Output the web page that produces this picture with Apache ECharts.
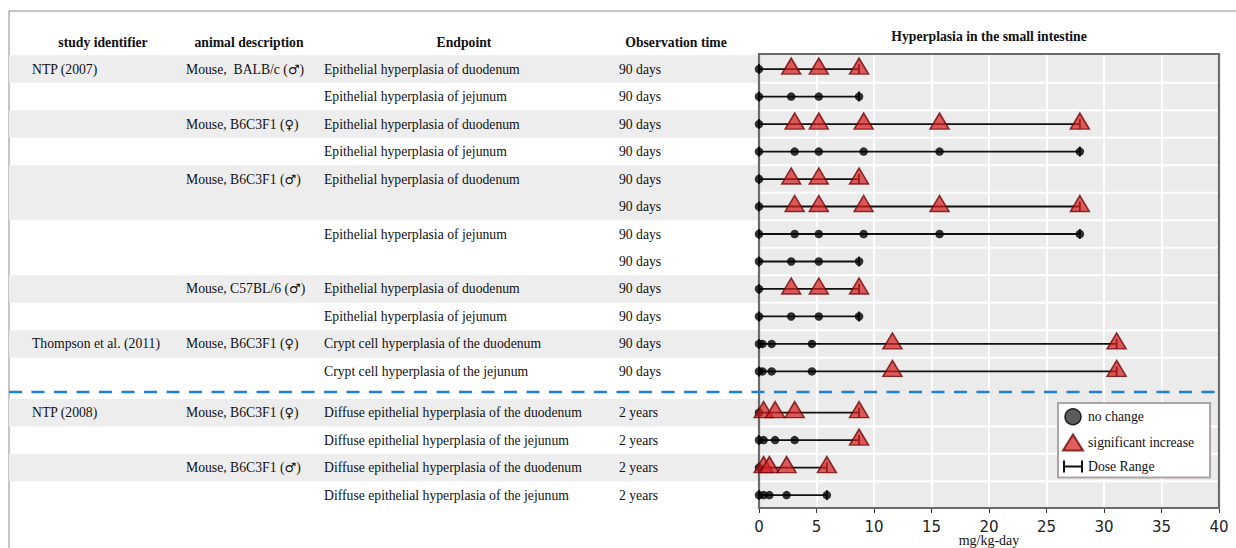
<!DOCTYPE html>
<html>
<head>
<meta charset="utf-8">
<script src="https://cdn.jsdelivr.net/npm/echarts@6/dist/echarts.min.js"></script>
<style>
  html, body { margin: 0; padding: 0; background: #ffffff; }
  #chart { width: 1236px; height: 548px; }
</style>
</head>
<body>
<div id="chart"></div>
<script>
// ---- table columns (one entry per row) ----
const studies = ['NTP (2007)', '', '', '', '', '', '', '', '', '', 'Thompson et al. (2011)', '', 'NTP (2008)', '', '', ''];
const animals = ['Mouse,  BALB/c (\u2642)', '', 'Mouse, B6C3F1 (\u2640)', '', 'Mouse, B6C3F1 (\u2642)', '', '', '',
  'Mouse, C57BL/6 (\u2642)', '', 'Mouse, B6C3F1 (\u2640)', '', 'Mouse, B6C3F1 (\u2640)', '', 'Mouse, B6C3F1 (\u2642)', ''];
const endpoints = [
  'Epithelial hyperplasia of duodenum', 'Epithelial hyperplasia of jejunum',
  'Epithelial hyperplasia of duodenum', 'Epithelial hyperplasia of jejunum',
  'Epithelial hyperplasia of duodenum', '',
  'Epithelial hyperplasia of jejunum', '',
  'Epithelial hyperplasia of duodenum', 'Epithelial hyperplasia of jejunum',
  'Crypt cell hyperplasia of the duodenum', 'Crypt cell hyperplasia of the jejunum',
  'Diffuse epithelial hyperplasia of the duodenum', 'Diffuse epithelial hyperplasia of the jejunum',
  'Diffuse epithelial hyperplasia of the duodenum', 'Diffuse epithelial hyperplasia of the jejunum'
];
const obsTimes = ['90 days', '90 days', '90 days', '90 days', '90 days', '90 days', '90 days', '90 days',
  '90 days', '90 days', '90 days', '90 days', '2 years', '2 years', '2 years', '2 years'];
const shaded = [1, 0, 1, 0, 1, 1, 0, 0, 1, 0, 1, 0, 1, 0, 1, 0];
const headers = ['study identifier', 'animal description', 'Endpoint', 'Observation time'];
const xAxisTitle = 'mg/kg-day';

// row positions on the vertical axis (the two study blocks are separated by a divider)
const rowPos = [1, 2, 3, 4, 5, 6, 7, 8, 9, 10, 11, 12, 13.5, 14.5, 15.5, 16.5];
const dividerPos = 12.75;

// ---- doses (mg/kg-day) and response per dose: 0 = no change, 1 = significant increase ----
const doses = [
  [0, 2.8, 5.2, 8.7],
  [0, 2.8, 5.2, 8.7],
  [0, 3.1, 5.2, 9.1, 15.7, 27.9],
  [0, 3.1, 5.2, 9.1, 15.7, 27.9],
  [0, 2.8, 5.2, 8.7],
  [0, 3.1, 5.2, 9.1, 15.7, 27.9],
  [0, 3.1, 5.2, 9.1, 15.7, 27.9],
  [0, 2.8, 5.2, 8.7],
  [0, 2.8, 5.2, 8.7],
  [0, 2.8, 5.2, 8.7],
  [0, 0.3, 1.1, 4.6, 11.6, 31.1],
  [0, 0.3, 1.1, 4.6, 11.6, 31.1],
  [0, 0.4, 1.4, 3.1, 8.7],
  [0, 0.4, 1.4, 3.1, 8.7],
  [0, 0.4, 0.9, 2.4, 5.9],
  [0, 0.4, 0.9, 2.4, 5.9]
];
const effects = [
  [0, 1, 1, 1],
  [0, 0, 0, 0],
  [0, 1, 1, 1, 1, 1],
  [0, 0, 0, 0, 0, 0],
  [0, 1, 1, 1],
  [0, 1, 1, 1, 1, 1],
  [0, 0, 0, 0, 0, 0],
  [0, 0, 0, 0],
  [0, 1, 1, 1],
  [0, 0, 0, 0],
  [0, 0, 0, 0, 1, 1],
  [0, 0, 0, 0, 1, 1],
  [0, 1, 1, 1, 1],
  [0, 0, 0, 0, 1],
  [0, 1, 1, 1, 1],
  [0, 0, 0, 0, 0]
];
const xTicks = { min: 0, max: 40, step: 5 };

// ---- layout ----
const PLOT = { left: 759, top: 54, width: 460, height: 454 };
const TABLE_LEFT = 9;
const COL_X = [32, 186, 324, 619];          // left edge of each table column
const HEAD_X = [103, 249, 464, 676];        // centre of each column heading
const Y_MIN = 0.45, Y_MAX = 16.97;
const SERIF = "'Liberation Serif', 'DejaVu Serif', serif";
const FS = 13.7;

// derived data
const noChange = [], sigInc = [], ranges = [];
doses.forEach((row, i) => {
  row.forEach((d, j) => {
    (effects[i][j] ? sigInc : noChange).push([d, rowPos[i]]);
  });
  ranges.push([Math.min(...row), Math.max(...row), rowPos[i]]);
});
const boundaries = [];
for (let i = 0; i < rowPos.length - 1; i++) {
  if (rowPos[i + 1] - rowPos[i] === 1) boundaries.push((rowPos[i] + rowPos[i + 1]) / 2);
}
const tableRows = rowPos.map((p, i) => [i, p]);

const chart = echarts.init(document.getElementById('chart'), null, { renderer: 'svg' });

function txt(text, x, y, font, align) {
  return {
    type: 'text',
    style: {
      text: text, x: x, y: y, font: font, fill: '#111',
      align: align, verticalAlign: 'middle', textAlign: align, textVerticalAlign: 'middle'
    }
  };
}

// the sex symbols are set in a sans face, which draws them at full size
function withSexSymbol(el) {
  const t = el.style.text;
  if (/[\u2640\u2642]/.test(t)) {
    el.style.text = t.replace(/([\u2640\u2642])/g, '{s|$1}');
    el.style.rich = { s: { fontFamily: 'DejaVu Sans', fontSize: 13, fill: '#111', color: '#111' } };
  }
  return el;
}

const option = {
  animation: false,
  backgroundColor: '#ffffff',
  grid: [
    {
      left: PLOT.left, top: PLOT.top, width: PLOT.width, height: PLOT.height,
      containLabel: false, outerBoundsMode: 'none',
      show: true, backgroundColor: '#ebebeb', borderWidth: 0
    },
    {
      left: TABLE_LEFT, top: PLOT.top, width: PLOT.left + PLOT.width - TABLE_LEFT, height: PLOT.height,
      containLabel: false, outerBoundsMode: 'none'
    }
  ],
  xAxis: [
    {
      gridIndex: 0, type: 'value', min: xTicks.min, max: xTicks.max, interval: xTicks.step,
      axisLine: { show: false },
      axisTick: { show: true, length: 5, lineStyle: { color: '#333', width: 1 } },
      axisLabel: { fontFamily: '"DejaVu Sans", sans-serif', fontSize: 15, color: '#222', margin: 11 },
      splitLine: { show: true, lineStyle: { color: '#ffffff', width: 2 } }
    },
    { gridIndex: 1, type: 'value', min: 0, max: 1, show: false }
  ],
  yAxis: [
    { gridIndex: 0, type: 'value', min: Y_MIN, max: Y_MAX, inverse: true, show: false },
    { gridIndex: 1, type: 'value', min: Y_MIN, max: Y_MAX, inverse: true, show: false }
  ],
  legend: {
    orient: 'vertical', left: 1058, top: 403,
    backgroundColor: '#ffffff', borderColor: '#ada5a5', borderWidth: 2,
    padding: [5, 16, 4, 4], itemGap: 8, itemWidth: 20, itemHeight: 16,
    selectedMode: false,
    textStyle: { fontFamily: 'Liberation Serif', fontSize: FS, color: '#111' },
    data: [
      { name: 'no change', icon: 'circle', itemStyle: { color: '#333333', borderColor: '#000', borderWidth: 1.5 } },
      { name: 'significant increase', icon: 'triangle' },
      { name: 'Dose Range', icon: 'path://M0,0h2v12h-2z M0,5h20v2h-20z M18,0h2v12h-2z', itemStyle: { color: '#111' } }
    ]
  },
  graphic: [
    { type: 'line', shape: { x1: 9, y1: 11, x2: 1236, y2: 11 }, style: { stroke: '#8a8a8a', lineWidth: 1 }, silent: true },
    { type: 'line', shape: { x1: 9, y1: 11, x2: 9, y2: 548 }, style: { stroke: '#8a8a8a', lineWidth: 1 }, silent: true },
    Object.assign(txt('Hyperplasia in the small intestine', PLOT.left + PLOT.width / 2, 36, 'bold ' + FS + 'px ' + SERIF, 'center'), { silent: true }),
    // axis title, kept inside the canvas just under the tick labels
    Object.assign(txt(xAxisTitle, PLOT.left + PLOT.width / 2, 540, '14px ' + SERIF, 'center'), { silent: true })
  ].concat(headers.map((h, i) => Object.assign(txt(h, HEAD_X[i], 42, 'bold ' + FS + 'px ' + SERIF, 'center'), { silent: true }))),
  series: [
    {
      // table stripes and text columns
      name: 'table', type: 'custom', xAxisIndex: 1, yAxisIndex: 1, silent: true, z: 1,
      data: tableRows,
      renderItem: function (params, api) {
        const i = api.value(0);
        const y = api.coord([0, api.value(1)])[1];
        const yTop = api.coord([0, api.value(1) - 0.5])[1];
        const yBot = api.coord([0, api.value(1) + 0.5])[1];
        const children = [];
        if (shaded[i]) {
          children.push({ type: 'rect', shape: { x: TABLE_LEFT, y: yTop, width: PLOT.left - TABLE_LEFT, height: yBot - yTop }, style: { fill: '#ededed' } });
        }
        const font = FS + 'px ' + SERIF;
        [studies[i], animals[i], endpoints[i], obsTimes[i]].forEach((t, c) => {
          if (t) children.push(withSexSymbol(txt(t, COL_X[c], y, font, 'left')));
        });
        return { type: 'group', children: children };
      }
    },
    {
      // white row separators inside the plot
      name: 'rowLines', type: 'custom', xAxisIndex: 0, yAxisIndex: 0, silent: true, z: 1,
      data: boundaries,
      renderItem: function (params, api) {
        const p1 = api.coord([xTicks.min, api.value(0)]);
        const p2 = api.coord([xTicks.max, api.value(0)]);
        return { type: 'line', shape: { x1: p1[0], y1: p1[1], x2: p2[0], y2: p2[1] }, style: { stroke: '#ffffff', lineWidth: 2 } };
      }
    },
    {
      // frame round the plotting area, under the markers
      name: 'frame', type: 'custom', xAxisIndex: 0, yAxisIndex: 0, silent: true, z: 1.5,
      data: [[xTicks.min, Y_MIN, xTicks.max, Y_MAX]],
      renderItem: function (params, api) {
        const a = api.coord([api.value(0), api.value(1)]);
        const b = api.coord([api.value(2), api.value(3)]);
        return {
          type: 'rect',
          shape: { x: Math.min(a[0], b[0]), y: Math.min(a[1], b[1]), width: Math.abs(b[0] - a[0]), height: Math.abs(b[1] - a[1]) },
          style: { fill: 'none', stroke: '#6b6b6b', lineWidth: 2.2 }
        };
      }
    },
    {
      // separator between the 90-day and 2-year studies
      name: 'divider', type: 'custom', xAxisIndex: 1, yAxisIndex: 1, silent: true, z: 5,
      data: [[0, dividerPos]],
      renderItem: function (params, api) {
        const y = api.coord([0, api.value(1)])[1];
        return { type: 'line', shape: { x1: TABLE_LEFT, y1: y, x2: PLOT.left + PLOT.width, y2: y }, style: { stroke: '#1f7fd2', lineWidth: 2.5, lineDash: [13, 9.5] } };
      }
    },
    {
      name: 'Dose Range', type: 'custom', xAxisIndex: 0, yAxisIndex: 0, silent: true, z: 2,
      itemStyle: { color: '#111' },
      data: ranges,
      renderItem: function (params, api) {
        const a = api.coord([api.value(0), api.value(2)]);
        const b = api.coord([api.value(1), api.value(2)]);
        const s = { stroke: '#111', lineWidth: 1.8 };
        return {
          type: 'group', children: [
            { type: 'line', shape: { x1: a[0], y1: a[1], x2: b[0], y2: b[1] }, style: s },
            { type: 'line', shape: { x1: a[0], y1: a[1] - 5, x2: a[0], y2: a[1] + 5 }, style: s },
            { type: 'line', shape: { x1: b[0], y1: b[1] - 5, x2: b[0], y2: b[1] + 5 }, style: s }
          ]
        };
      }
    },
    {
      name: 'no change', type: 'scatter', xAxisIndex: 0, yAxisIndex: 0, z: 3, clip: false,
      symbol: 'circle', symbolSize: 8.5,
      itemStyle: { color: '#000000' },
      data: noChange
    },
    {
      name: 'significant increase', type: 'scatter', xAxisIndex: 0, yAxisIndex: 0, z: 4, clip: false,
      symbol: 'triangle', symbolSize: [19, 16], symbolOffset: [0, -3],
      itemStyle: { color: 'rgba(214,32,32,0.9)', borderColor: '#730606', borderWidth: 1.5 },
      data: sigInc
    }
  ]
};
chart.setOption(option);
</script>
</body>
</html>
